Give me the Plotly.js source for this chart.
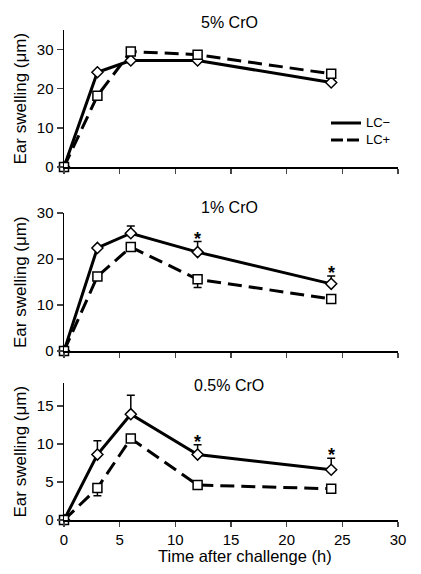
<!DOCTYPE html>
<html><head><meta charset="utf-8">
<script src="https://cdn.plot.ly/plotly-3.0.1.min.js"></script>
<style>html,body{margin:0;padding:0;background:#fff}#chart{width:421px;height:574px}</style>
</head><body><div id="chart"></div>
<script>
// Data
const time = [0, 3, 6, 12, 24];
const panelTitles = ["5% CrO", "1% CrO", "0.5% CrO"];
const seriesNames = ["LC\u2212", "LC+"];
// 5% CrO
const neg5 = [0, 24.2, 27.2, 27.2, 21.6];
const negErr5 = [0, 0, 0, 0, 0];
const pos5 = [0, 18.2, 29.5, 28.7, 23.8];
const posErr5 = [0, 0, 0, 0, 0];
const sig5 = ["", "", "", "", ""];
// 1% CrO
const neg1 = [0, 22.4, 25.6, 21.5, 14.6];
const negErr1 = [0, 0, 1.6, 2.3, 1.7];
const pos1 = [0, 16.2, 22.6, 15.6, 11.3];
const posErr1 = [0, 0, 0, 1.8, 0];
const sig1 = ["", "", "", "*", "*"];
// 0.5% CrO
const neg05 = [0, 8.6, 13.9, 8.6, 6.6];
const negErr05 = [0, 1.8, 2.5, 1.3, 1.5];
const pos05 = [0, 4.2, 10.7, 4.6, 4.1];
const posErr05 = [0, 1.0, 0, 0, 0];
const sig05 = ["", "", "", "*", "*"];
const yRanges = [[0, 35], [0, 30], [0, 18]];
const yTicks = [[0, 10, 20, 30], [0, 10, 20, 30], [0, 5, 10, 15]];
const xTicks = [0, 5, 10, 15, 20, 25, 30];

const panels = [
  {neg: neg5, negErr: negErr5, pos: pos5, posErr: posErr5, sig: sig5},
  {neg: neg1, negErr: negErr1, pos: pos1, posErr: posErr1, sig: sig1},
  {neg: neg05, negErr: negErr05, pos: pos05, posErr: posErr05, sig: sig05}
];

const H = 574;
const PW = 334, L = 64;
const pix = [[30, 167], [213, 351], [383, 520]];
const domains = pix.map(p => [1 - p[1] / H, 1 - p[0] / H]);
const FONT = "Liberation Sans, Arial, sans-serif";

const traces = [];
const annotations = [];
const layout = {
  width: 421, height: 574,
  margin: {l: L, r: 23, t: 0, b: 0},
  paper_bgcolor: "#fff", plot_bgcolor: "#fff",
  showlegend: false,
  font: {family: FONT, color: "#000", size: 14},
  shapes: [],
  annotations: annotations
};

panels.forEach((p, i) => {
  const k = i === 0 ? "" : String(i + 1);
  const xa = "x" + k, ya = "y" + k;
  traces.push({
    x: time, y: p.neg, xaxis: xa, yaxis: ya, name: seriesNames[0],
    mode: "lines+markers", cliponaxis: false,
    line: {color: "#000", width: 3},
    marker: {symbol: "diamond", size: 8.5, color: "#fff", line: {color: "#000", width: 1.5}},
    error_y: {type: "data", symmetric: false, array: p.negErr, arrayminus: time.map(() => 0),
      color: "#000", thickness: 1.5, width: 4}
  });
  traces.push({
    x: time, y: p.pos, xaxis: xa, yaxis: ya, name: seriesNames[1],
    mode: "lines+markers", cliponaxis: false,
    line: {color: "#000", width: 3, dash: "14px,7px"},
    marker: {symbol: "square", size: 9, color: "#fff", line: {color: "#000", width: 1.5}},
    error_y: {type: "data", symmetric: false, array: time.map(() => 0), arrayminus: p.posErr,
      color: "#000", thickness: 1.5, width: 4}
  });
  layout["xaxis" + k] = {
    anchor: ya, domain: [0, 1], range: [0, 30], tickvals: xTicks,
    showticklabels: i === 2, ticks: "outside", ticklen: 5, tickwidth: 1.5,
    showline: true, linewidth: 1.5, linecolor: "#000", showgrid: false, zeroline: false,
    tickfont: {size: 15, family: FONT}
  };
  layout["yaxis" + k] = {
    anchor: xa, domain: domains[i], range: yRanges[i], tickvals: yTicks[i],
    ticks: "outside", ticklen: 6, tickwidth: 1.5,
    showline: true, linewidth: 1.5, linecolor: "#000", showgrid: false, zeroline: false,
    tickfont: {size: 15, family: FONT}
  };
  // panel title
  const titleY = [22, 207, 385][i];
  annotations.push({text: panelTitles[i], xref: "paper", yref: "paper", x: (229 - L) / PW,
    y: 1 - titleY / H, xanchor: "center", yanchor: "middle", showarrow: false,
    font: {size: 16, family: FONT}});
  // y title
  annotations.push({text: "Ear swelling (\u03bcm)", xref: "paper", yref: "paper",
    x: (20 - L) / PW, y: (domains[i][0] + domains[i][1]) / 2, textangle: -90,
    xanchor: "center", yanchor: "middle", showarrow: false, font: {size: 17, family: FONT}});
  // significance marks
  p.sig.forEach((s, j) => {
    if (!s) return;
    annotations.push({text: "<b>" + s + "</b>", xref: xa, yref: ya, x: time[j], y: p.neg[j] + p.negErr[j],
      xanchor: "center", yanchor: "middle", yshift: 3, showarrow: false,
      font: {size: 18, family: FONT}});
  });
});

annotations.push({text: "Time after challenge (h)", xref: "paper", yref: "paper",
  x: (244.5 - L) / PW, y: 1 - 556 / H, xanchor: "center", yanchor: "middle", showarrow: false,
  font: {size: 16.5, family: FONT}});

// legend (panel 1)
const legY = [123, 140];
const legDash = ["solid", "12px,4px"];
seriesNames.forEach((n, i) => {
  layout.shapes.push({type: "line", xref: "paper", yref: "paper",
    x0: (331 - L) / PW, x1: (361 - L) / PW, y0: 1 - legY[i] / H, y1: 1 - legY[i] / H,
    line: {color: "#000", width: 3, dash: legDash[i]}});
});
annotations.push({text: seriesNames.join("<br>"), xref: "paper", yref: "paper", x: (365 - L) / PW,
  y: 1 - (legY[0] + legY[1]) / 2 / H, xanchor: "left", yanchor: "middle", align: "left",
  showarrow: false, borderpad: 0, font: {size: 13, family: FONT}});

Plotly.newPlot("chart", traces, layout, {staticPlot: true, displayModeBar: false});
</script></body></html>
